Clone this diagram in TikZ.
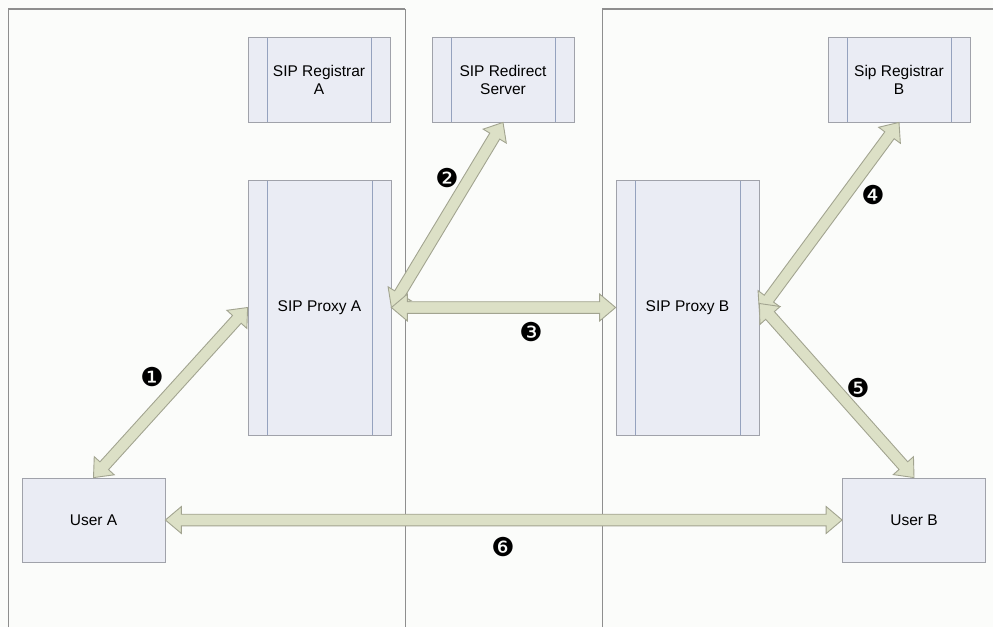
\documentclass[tikz,border=0pt]{standalone}
\usepackage{fontspec}
\setmainfont{Liberation Sans}
\newfontfamily\dingfont{DejaVu Sans}
\usetikzlibrary{calc}
\definecolor{bgcol}{HTML}{FBFCFA}
\definecolor{boxfill}{HTML}{EAECF4}
\definecolor{boxline}{HTML}{A0A2AA}
\definecolor{innerline}{HTML}{95A2BE}
\definecolor{arrfill}{HTML}{DCE0C6}
\definecolor{arrline}{HTML}{A2A490}
\definecolor{frameline}{HTML}{8E8E8E}
\tikzset{
  srvbox/.style={draw=boxline, fill=boxfill, line width=0.8pt, inner sep=0pt,
    minimum width=142pt, minimum height=#1, align=center,
    font=\fontsize{15.5}{18}\selectfont,
    path picture={
      \draw[innerline, line width=0.9pt]
        ([xshift=19pt]path picture bounding box.north west) -- ([xshift=19pt]path picture bounding box.south west)
        ([xshift=-19pt]path picture bounding box.north east) -- ([xshift=-19pt]path picture bounding box.south east);
    }},
  usrbox/.style={draw=boxline, fill=boxfill, line width=0.8pt, inner sep=0pt,
    minimum width=143pt, minimum height=84pt, align=center,
    font=\fontsize{15.5}{18}\selectfont},
  numlabel/.style={font=\dingfont\fontsize{26}{26}\selectfont, inner sep=0pt},
  barstyle/.style={draw=arrline, fill=arrfill, line width=0.9pt, line join=miter},
  framestyle/.style={draw=frameline, line width=0.9pt}
}
\newcommand\blockarr[2]{%
  \coordinate (ba1) at ($(#1)!16pt!(#2)$);
  \coordinate (ba2) at ($(#2)!16pt!(#1)$);
  \path[barstyle] (#1) -- ($(ba1)!13.5pt!90:(#2)$) -- ($(ba1)!5.8pt!90:(#2)$)
    -- ($(ba2)!5.8pt!-90:(#1)$) -- ($(ba2)!13.5pt!-90:(#1)$) -- (#2)
    -- ($(ba2)!13.5pt!90:(#1)$) -- ($(ba2)!5.8pt!90:(#1)$)
    -- ($(ba1)!5.8pt!-90:(#2)$) -- ($(ba1)!13.5pt!-90:(#2)$) -- cycle;
}
\begin{document}
\begin{tikzpicture}[x=1pt, y=-1pt]
  \fill[bgcol] (0,0) rectangle (993,627);
  \useasboundingbox (0,0) rectangle (993,627);
  % frame
  \draw[framestyle] (8,627) -- (8,9) -- (405,9) -- (405,627);
  \draw[framestyle] (602,627) -- (602,9) -- (993,9);
  \draw[framestyle, line width=1.6pt] (8,9) -- (405,9);
  \draw[framestyle, line width=1.6pt] (602,9) -- (993,9);
  % boxes
  \node[srvbox=85pt] (ra) at (319,79.5) {SIP Registrar\\A};
  \node[srvbox=85pt] (rd) at (503,79.5) {SIP Redirect\\Server};
  \node[srvbox=85pt] (rb) at (899,79.5) {Sip Registrar\\B};
  \node[srvbox=255pt, minimum width=143pt] (pa) at (319.5,307.5) {SIP Proxy A};
  \node[srvbox=255pt, minimum width=143pt] (pb) at (687.5,307.5) {SIP Proxy B};
  \node[usrbox] (ua) at (93.5,520) {User A};
  \node[usrbox] (ub) at (914,520) {User B};
  % connector end points
  \coordinate (pb4) at ([yshift=-4pt]pb.east);
  \coordinate (pb5) at ([yshift=4pt]pb.east);
  % arrows
  \blockarr{ua.north}{pa.west}
  \blockarr{pa.east}{rd.south}
  \blockarr{pa.east}{pb.west}
  \blockarr{pb4}{rb.south}
  \blockarr{pb5}{ub.north}
  \blockarr{ua.east}{ub.west}
  % numbers
  \node[numlabel] (n1) at (152,377) {❶};
  \node[numlabel] (n2) at (447,178) {❷};
  \node[numlabel] (n3) at (531,332) {❸};
  \node[numlabel] (n4) at (873,195) {❹};
  \node[numlabel] (n5) at (858,388) {❺};
  \node[numlabel] (n6) at (503,547) {❻};
\end{tikzpicture}
\end{document}
